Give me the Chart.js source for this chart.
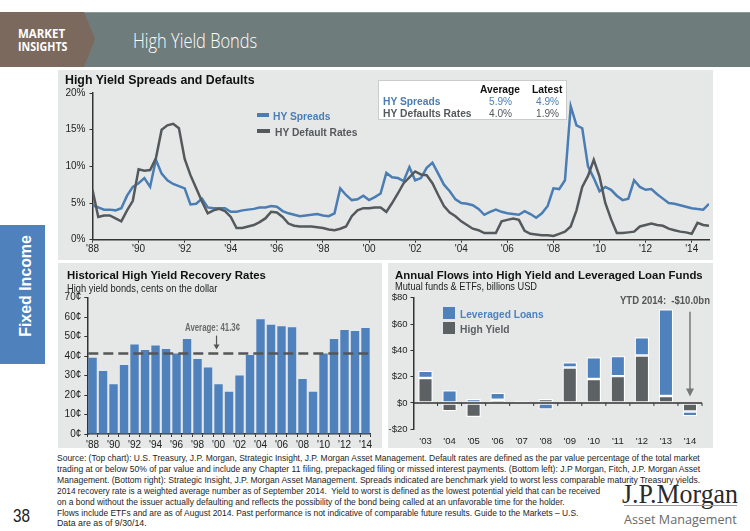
<!DOCTYPE html>
<html>
<head>
<meta charset="utf-8">
<script src="https://cdn.jsdelivr.net/npm/chart.js@4.4.1/dist/chart.umd.min.js"></script>
<style>
  body { margin: 0; background: #fff; }
  #page { position: relative; width: 750px; height: 531px; overflow: hidden; background: #fff;
          font-family: 'Liberation Sans', Arial, sans-serif; }
  .abs { position: absolute; white-space: nowrap; line-height: 1; }
  .panel { position: absolute; background: #e6e8e8; }
  canvas { position: absolute; }
  .foot { position: absolute; left: 57px; white-space: nowrap; line-height: 1; color: #1e1e1e;
          font: 9.5px 'Liberation Sans Narrow', 'Arial Narrow', 'Liberation Sans', sans-serif; }
</style>
</head>
<body>
<div id="page">

  <!-- header banner -->
  <div class="abs" style="left:0;top:12px;width:750px;height:54px;background:#6f7c7c;border-top:1px solid #8c9797"></div>
  <div class="abs" style="left:0;top:12px;width:95px;height:55px;background:#7b695d;clip-path:polygon(0 0,84px 0,95px 27px,84px 55px,0 55px)"></div>
  <div class="abs" data-w="47" style="left:18px;top:26px;font:bold 11.5px 'Open Sans','Liberation Sans';color:#fff">MARKET</div>
  <div class="abs" data-w="49" style="left:18px;top:39px;font:bold 11.5px 'Open Sans','Liberation Sans';color:#fff">INSIGHTS</div>
  <div class="abs" data-w="124" style="left:133px;top:27px;font:300 20px 'Open Sans','Liberation Sans';color:#fff">High Yield Bonds</div>

  <!-- side tab -->
  <div class="abs" style="left:0;top:225px;width:45px;height:139px;background:#4f81bd"></div>
  <div class="abs" id="tabText" data-w="102" data-pre="translate(-50%,-50%) rotate(-90deg)" data-origin="center"
       style="left:26px;top:286px;font:bold 17px 'Liberation Sans';color:#fff">Fixed Income</div>

  <!-- panels -->
  <div class="panel" style="left:58px;top:70px;width:655px;height:190px"></div>
  <div class="panel" style="left:58px;top:263px;width:324px;height:185px"></div>
  <div class="panel" style="left:388px;top:263px;width:325px;height:185px"></div>

  <canvas id="spreadChart" width="655" height="190" style="left:58px;top:70px"></canvas>
  <canvas id="recoveryChart" width="324" height="185" style="left:58px;top:263px"></canvas>
  <canvas id="flowChart" width="325" height="185" style="left:388px;top:263px"></canvas>

  <!-- top chart texts -->
  <div class="abs" data-w="190" style="left:65px;top:73px;font:bold 12.3px 'Liberation Sans';color:#111">High Yield Spreads and Defaults</div>

  <div class="abs" style="left:257px;top:113px;width:12px;height:4px;background:#4a7db3"></div>
  <div class="abs" data-w="58" style="left:273px;top:109.5px;font:bold 11px 'Liberation Sans';color:#4a7db3">HY Spreads</div>
  <div class="abs" style="left:257px;top:129px;width:13px;height:4px;background:#54595c"></div>
  <div class="abs" data-w="82" style="left:275px;top:125.5px;font:bold 11px 'Liberation Sans';color:#54595c">HY Default Rates</div>

  <div class="abs" style="left:378px;top:80px;width:189px;height:40px;background:#fff;border:1px solid #c9cccc;box-sizing:border-box"></div>
  <div class="abs" data-w="40" style="left:480px;top:82.5px;font:bold 11px 'Liberation Sans';color:#111">Average</div>
  <div class="abs" data-w="30" style="left:532px;top:82.5px;font:bold 11px 'Liberation Sans';color:#111">Latest</div>
  <div class="abs" data-w="58" style="left:383px;top:94.5px;font:bold 11px 'Liberation Sans';color:#4a7db3">HY Spreads</div>
  <div class="abs" data-w="23" style="left:489px;top:94.5px;font:11px 'Liberation Sans';color:#4a7db3">5.9%</div>
  <div class="abs" data-w="23" style="left:536px;top:94.5px;font:11px 'Liberation Sans';color:#4a7db3">4.9%</div>
  <div class="abs" data-w="89" style="left:383px;top:106.5px;font:bold 11px 'Liberation Sans';color:#54595c">HY Defaults Rates</div>
  <div class="abs" data-w="23" style="left:489px;top:106.5px;font:11px 'Liberation Sans';color:#54595c">4.0%</div>
  <div class="abs" data-w="23" style="left:536px;top:106.5px;font:11px 'Liberation Sans';color:#54595c">1.9%</div>

  <!-- bottom left texts -->
  <div class="abs" data-w="199" style="left:66.5px;top:268px;font:bold 11.8px 'Liberation Sans';color:#111">Historical High Yield Recovery Rates</div>
  <div class="abs" data-w="150" style="left:66.5px;top:281.5px;font:10.5px 'Liberation Sans Narrow','Liberation Sans';color:#222">High yield bonds, cents on the dollar</div>

  <!-- bottom right texts -->
  <div class="abs" data-w="308" style="left:395px;top:267.5px;font:bold 11.8px 'Liberation Sans';color:#111">Annual Flows into High Yield and Leveraged Loan Funds</div>
  <div class="abs" data-w="142" style="left:395px;top:280px;font:10.5px 'Liberation Sans Narrow','Liberation Sans';color:#222">Mutual funds &amp; ETFs, billions USD</div>
  <div class="abs" style="left:443px;top:307px;width:12px;height:12px;background:#4f81bd"></div>
  <div class="abs" data-w="84" style="left:460px;top:307.5px;font:bold 11.5px 'Liberation Sans';color:#4f81bd">Leveraged Loans</div>
  <div class="abs" style="left:443px;top:322px;width:12px;height:12px;background:#5c6164"></div>
  <div class="abs" data-w="50" style="left:460px;top:322.5px;font:bold 11.5px 'Liberation Sans';color:#5c6164">High Yield</div>

  <!-- footer -->
  <div class="foot" data-w="643" style="top:452px">Source: (Top chart): U.S. Treasury, J.P. Morgan, Strategic Insight, J.P. Morgan Asset Management. Default rates are defined as the par value percentage of the total market</div>
  <div class="foot" data-w="643" style="top:463px">trading at or below 50% of par value and include any Chapter 11 filing, prepackaged filing or missed interest payments. (Bottom left): J.P Morgan, Fitch, J.P. Morgan Asset</div>
  <div class="foot" data-w="643" style="top:474px">Management. (Bottom right): Strategic Insight, J.P. Morgan Asset Management. Spreads indicated are benchmark yield to worst less comparable maturity Treasury yields.</div>
  <div class="foot" data-w="543" style="top:484.5px">2014 recovery rate is a weighted average number as of September 2014.&nbsp; Yield to worst is defined as the lowest potential yield that can be received</div>
  <div class="foot" data-w="508" style="top:495.5px">on a bond without the issuer actually defaulting and reflects the possibility of the bond being called at an unfavorable time for the holder.</div>
  <div class="foot" data-w="521" style="top:506.5px">Flows include ETFs and are as of August 2014. Past performance is not indicative of comparable future results. Guide to the Markets – U.S.</div>
  <div class="foot" data-w="90" style="top:517px">Data are as of 9/30/14.</div>

  <div class="abs" data-w="17" style="left:13px;top:506px;font:18px 'Liberation Sans';color:#222">38</div>

  <div class="abs" data-w="116" style="left:622px;top:479px;font:27px 'Liberation Serif',serif;color:#2a2a2a">J.P.Morgan</div>
  <div class="abs" style="left:624px;top:505px;width:113px;height:1px;background:#9a9a9a"></div>
  <div class="abs" data-w="113" style="left:624px;top:510px;font:13.5px 'Open Sans','Liberation Sans';color:#6a6a6a">Asset Management</div>
</div>

<script>
// ---- data ----
const blue = '#4a7db3';
const barBlue = '#4f81bd';
const gray = '#54595c';
const barGray = '#5c6164';
const narrow = "'Liberation Sans Narrow', 'Arial Narrow', 'Liberation Sans', sans-serif";

// top chart: quarterly readings, 1988 Q1 .. 2014 Q4 (percent)
const firstYear = 1988;
const spreads = [
  4.7, 4.4, 4.1, 4.1,   // 1988
  4.0, 4.3, 6.0, 7.2,   // 1989
  7.7, 8.4, 7.2, 10.9,  // 1990
  9.0, 8.1, 7.6, 7.3,   // 1991
  7.0, 4.8, 4.9, 5.6,   // 1992
  4.4, 4.3, 4.3, 4.3,   // 1993
  3.8, 3.8, 4.0, 4.1,   // 1994
  4.2, 4.4, 4.4, 4.6,   // 1995
  4.5, 3.9, 3.6, 3.4,   // 1996
  3.2, 3.3, 3.4, 3.5,   // 1997
  3.3, 3.2, 3.6, 7.0,   // 1998
  6.1, 5.4, 5.5, 6.0,   // 1999
  5.4, 5.8, 6.3, 9.1,   // 2000
  8.5, 8.4, 8.0, 9.9,   // 2001
  8.1, 8.4, 9.8, 10.5,  // 2002
  9.0, 7.5, 6.6, 5.5,   // 2003
  5.0, 4.9, 4.7, 4.2,   // 2004
  3.4, 3.8, 4.1, 3.8,   // 2005
  3.6, 3.5, 3.4, 3.9,   // 2006
  3.5, 3.0, 3.6, 4.6,   // 2007
  7.0, 6.9, 8.1, 18.2,  // 2008
  15.6, 15.2, 10.0, 8.4,// 2009
  6.6, 7.2, 6.8, 6.0,   // 2010
  5.4, 5.6, 8.1, 7.2,   // 2011
  6.8, 6.9, 6.2, 5.6,   // 2012
  5.0, 4.9, 4.7, 4.5,   // 2013
  4.3, 4.2, 4.1, 4.9    // 2014
];
const defaultRates = [
  6.8, 3.1, 3.3, 3.3,   // 1988
  2.9, 2.5, 4.0, 5.3,   // 1989
  9.6, 9.4, 9.5, 11.1,  // 1990
  15.0, 15.6, 15.8, 15.2, // 1991
  11.0, 8.8, 7.0, 5.2,  // 1992
  3.6, 4.0, 4.2, 3.9,   // 1993
  3.1, 1.6, 1.6, 1.8,   // 1994
  2.0, 2.4, 2.9, 3.8,   // 1995
  3.7, 3.1, 2.2, 1.9,   // 1996
  1.8, 1.8, 1.8, 1.7,   // 1997
  1.6, 1.4, 1.3, 1.5,   // 1998
  1.8, 3.2, 4.0, 4.3,   // 1999
  4.3, 4.4, 4.4, 3.8,   // 2000
  5.0, 6.3, 7.7, 8.5,   // 2001
  9.3, 8.9, 8.8, 7.7,   // 2002
  6.1, 4.6, 3.7, 3.2,   // 2003
  2.5, 2.0, 1.5, 1.3,   // 2004
  0.9, 0.9, 0.9, 2.5,   // 2005
  2.7, 2.9, 2.7, 1.2,   // 2006
  0.8, 0.7, 0.6, 0.6,   // 2007
  0.5, 0.8, 1.1, 1.8,   // 2008
  4.0, 7.2, 8.7, 10.9,  // 2009
  8.6, 5.0, 2.8, 0.9,   // 2010
  0.9, 1.0, 1.1, 1.8,   // 2011
  2.0, 2.2, 2.0, 1.9,   // 2012
  1.5, 1.3, 1.1, 1.0,   // 2013
  0.8, 2.3, 2.0, 1.9    // 2014
];

// bottom left: recovery rates, cents on the dollar
const recoveryYears = ["'88","'89","'90","'91","'92","'93","'94","'95","'96","'97","'98","'99","'00",
                       "'01","'02","'03","'04","'05","'06","'07","'08","'09","'10","'11","'12","'13","'14"];
const recoveryRates = [39.2, 32.3, 25.5, 35.4, 46.0, 43.1, 45.5, 43.6, 41.4, 48.8, 38.5, 34.1, 25.5,
                       21.7, 30.0, 40.6, 58.9, 56.1, 55.3, 54.8, 28.2, 21.7, 41.4, 48.8, 53.4, 52.9, 54.4];
const recoveryAverage = 41.3;

// bottom right: fund flows, billions USD
const flowYears = ["'03","'04","'05","'06","'07","'08","'09","'10","'11","'12","'13","'14"];
const highYieldFlows = [19.0, -6.3, -10.6, 2.5, 1.2, 3.0, 27.0, 18.2, 20.4, 36.1, 5.3, -6.5];
const leveragedLoanFlows = [5.5, 9.6, 3.0, 5.3, 0.4, -5.0, 4.0, 16.6, 15.2, 13.9, 65.9, -3.5];

Chart.defaults.font.family = "'Liberation Sans', Arial, sans-serif";
Chart.defaults.color = '#222';

const axisGrid = { drawOnChartArea: false, drawTicks: true, tickLength: 3, tickColor: '#333' };
const axisBorder = { display: true, color: '#333', width: 1.5 };

// ---- top: spreads and defaults ----
const toPoints = vals => vals.map((v, i) => ({ x: firstYear + i / 4, y: v }));

new Chart(document.getElementById('spreadChart'), {
  type: 'line',
  data: {
    datasets: [
      { label: 'HY Default Rates', data: toPoints(defaultRates), borderColor: gray, borderWidth: 2.5, pointRadius: 0 },
      { label: 'HY Spreads', data: toPoints(spreads), borderColor: blue, borderWidth: 2.5, pointRadius: 0 }
    ]
  },
  options: {
    responsive: false, animation: false,
    layout: { padding: { top: 23, right: 4, left: 0, bottom: 0 } },
    plugins: { legend: { display: false }, tooltip: { enabled: false } },
    scales: {
      x: {
        type: 'linear', min: 1988, max: 2014.75,
        ticks: { stepSize: 2, includeBounds: false, autoSkip: false, maxRotation: 0, padding: 1,
                 font: { size: 10 }, callback: v => "'" + String(v).slice(2) },
        grid: axisGrid, border: axisBorder,
        afterFit: s => { s.height = 20.3; }
      },
      y: {
        min: 0, max: 20,
        ticks: { stepSize: 5, padding: 4, font: { size: 10 }, callback: v => v + '%' },
        grid: axisGrid, border: axisBorder,
        afterFit: s => { s.width = 34.5; }
      }
    }
  }
});

// ---- bottom left: recovery rates ----
const averageMarker = {
  id: 'averageMarker',
  afterDatasetsDraw(chart) {
    const { ctx, chartArea, scales: { x, y } } = chart;
    const yy = y.getPixelForValue(recoveryAverage);
    ctx.save();
    ctx.strokeStyle = '#555'; ctx.lineWidth = 2.5; ctx.setLineDash([10, 5]);
    ctx.beginPath(); ctx.moveTo(chartArea.left + 1, yy); ctx.lineTo(chartArea.right, yy); ctx.stroke();
    ctx.setLineDash([]);
    const ax = x.getPixelForValue(recoveryYears.indexOf("'00")) - 2;
    ctx.strokeStyle = '#555'; ctx.fillStyle = '#555'; ctx.lineWidth = 1.2;
    ctx.beginPath(); ctx.moveTo(ax, yy - 18); ctx.lineTo(ax, yy - 8); ctx.stroke();
    ctx.beginPath(); ctx.moveTo(ax - 3, yy - 9); ctx.lineTo(ax + 3, yy - 9); ctx.lineTo(ax, yy - 4); ctx.closePath(); ctx.fill();
    ctx.font = "bold 10px " + narrow;
    ctx.fillStyle = '#6b6b6b'; ctx.textAlign = 'center'; ctx.textBaseline = 'middle';
    ctx.fillText('Average: ' + recoveryAverage + '¢', ax - 4, yy - 25.5, 55);
    ctx.restore();
  }
};

new Chart(document.getElementById('recoveryChart'), {
  type: 'bar',
  data: {
    labels: recoveryYears,
    datasets: [{ data: recoveryRates, backgroundColor: barBlue, categoryPercentage: 1, barPercentage: 0.8 }]
  },
  options: {
    responsive: false, animation: false,
    layout: { padding: { top: 34.7, right: 11.25, left: 0, bottom: 0 } },
    plugins: { legend: { display: false }, tooltip: { enabled: false } },
    scales: {
      x: {
        ticks: { autoSkip: false, maxRotation: 0, padding: 2, font: { size: 10, family: narrow },
                 callback: function (v, i) { return i % 2 === 0 ? this.getLabelForValue(v) : ''; } },
        grid: axisGrid, border: axisBorder,
        afterFit: s => { s.height = 14; }
      },
      y: {
        min: 0, max: 70,
        ticks: { stepSize: 10, padding: 3, font: { size: 10 }, callback: v => v + '¢' },
        grid: axisGrid, border: axisBorder,
        afterFit: s => { s.width = 29.3; }
      }
    }
  },
  plugins: [averageMarker]
});

// ---- bottom right: fund flows ----
const flowMarkers = {
  id: 'flowMarkers',
  afterDatasetsDraw(chart) {
    const { ctx, chartArea, scales: { x, y } } = chart;
    const y0 = y.getPixelForValue(0);
    ctx.save();
    ctx.strokeStyle = '#333'; ctx.lineWidth = 1.5;
    ctx.beginPath(); ctx.moveTo(chartArea.left, y0); ctx.lineTo(chartArea.right, y0); ctx.stroke();
    const step = x.getPixelForValue(1) - x.getPixelForValue(0);
    ctx.lineWidth = 1;
    for (let i = 0; i <= flowYears.length; i++) {
      const tx = x.getPixelForValue(0) + (i - 0.5) * step;
      ctx.beginPath(); ctx.moveTo(tx, y0); ctx.lineTo(tx, y0 + 3); ctx.stroke();
    }
    // YTD arrow and note
    const last = flowYears.length - 1;
    const ax = x.getPixelForValue(last);
    const ytd = highYieldFlows[last] + leveragedLoanFlows[last];
    ctx.strokeStyle = '#777'; ctx.fillStyle = '#777'; ctx.lineWidth = 1.5;
    ctx.beginPath(); ctx.moveTo(ax, y.getPixelForValue(80) + 14); ctx.lineTo(ax, y.getPixelForValue(5) - 6); ctx.stroke();
    const tip = y.getPixelForValue(5);
    ctx.beginPath(); ctx.moveTo(ax - 4, tip - 8); ctx.lineTo(ax + 4, tip - 8); ctx.lineTo(ax, tip); ctx.closePath(); ctx.fill();
    ctx.font = "bold 10px " + narrow;
    ctx.fillStyle = '#555'; ctx.textAlign = 'right'; ctx.textBaseline = 'middle';
    ctx.fillText('YTD 2014:  -$' + Math.abs(ytd).toFixed(1) + 'bn', chartArea.right + 8, y.getPixelForValue(80) + 4, 90);
    ctx.restore();
  }
};

new Chart(document.getElementById('flowChart'), {
  type: 'bar',
  data: {
    labels: flowYears,
    datasets: [
      { label: 'High Yield', data: highYieldFlows, backgroundColor: barGray,
        borderColor: '#fff', borderWidth: 1.2, borderSkipped: false, categoryPercentage: 1, barPercentage: 0.6 },
      { label: 'Leveraged Loans', data: leveragedLoanFlows, backgroundColor: barBlue,
        borderColor: '#fff', borderWidth: 1.2, borderSkipped: false, categoryPercentage: 1, barPercentage: 0.6 }
    ]
  },
  options: {
    responsive: false, animation: false,
    layout: { padding: { top: 34.7, right: 11, left: 0, bottom: 0 } },
    plugins: { legend: { display: false }, tooltip: { enabled: false } },
    scales: {
      x: {
        stacked: true,
        ticks: { autoSkip: false, maxRotation: 0, padding: 6, font: { size: 9.5, family: narrow } },
        grid: { display: false, drawTicks: false }, border: { display: false },
        afterFit: s => { s.height = 18.7; }
      },
      y: {
        stacked: true, min: -20, max: 80,
        ticks: { stepSize: 20, padding: 3, font: { size: 9.5 },
                 callback: v => (v < 0 ? '-$' : '$') + Math.abs(v) },
        grid: axisGrid, border: axisBorder,
        afterFit: s => { s.width = 25.5; }
      }
    }
  },
  plugins: [flowMarkers]
});

// squeeze text boxes to the widths measured on the slide
document.querySelectorAll('[data-w]').forEach(el => {
  const k = Number(el.dataset.w) / el.offsetWidth;
  el.style.transformOrigin = el.dataset.origin || 'left center';
  el.style.transform = (el.dataset.pre || '') + ' scaleX(' + k.toFixed(3) + ')';
});
</script>
</body>
</html>
